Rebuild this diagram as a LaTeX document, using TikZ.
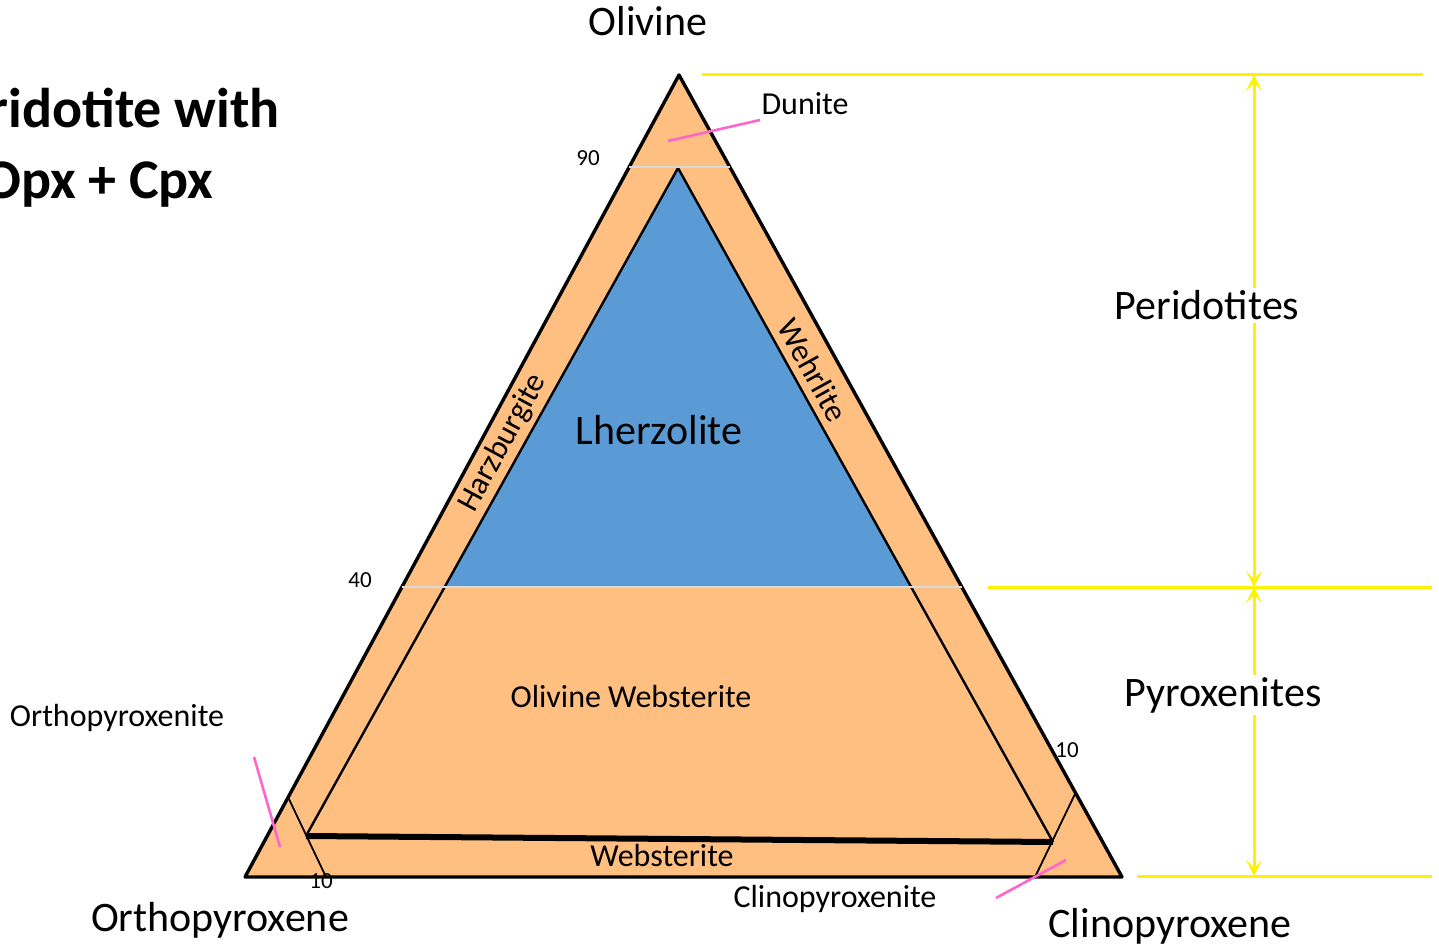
\documentclass[tikz,border=0pt]{standalone}
\usepackage{fontspec}
\setmainfont{Carlito}
\usetikzlibrary{arrows.meta}
\definecolor{opxorange}{RGB}{255,191,128}
\definecolor{lhzblue}{RGB}{91,155,213}
\definecolor{leadpink}{RGB}{255,102,204}
\definecolor{divgray}{RGB}{217,217,217}
\tikzset{
  biglbl/.style={font=\fontsize{21}{25}\selectfont,anchor=base,inner sep=1pt},
  smalllbl/.style={font=\fontsize{16}{19}\selectfont,anchor=base,inner sep=1pt},
  ticklbl/.style={font=\fontsize{11.5}{14}\selectfont,anchor=base,inner sep=1pt},
  leader/.style={leadpink,line width=1.3pt},
  field/.style={yellow,line width=1.5pt},
  fieldarrow/.style={field,-{Stealth[length=8pt,width=8pt,inset=4pt]}}
}
\begin{document}
\begin{tikzpicture}[x=0.5pt,y=-0.5pt,line join=round]
\useasboundingbox (0,0) rectangle (1439,945);
\clip (0,0) rectangle (1439,945);
% corners of the ternary plot
\coordinate (ol) at (679,75);
\coordinate (opx) at (245,877);
\coordinate (cpx) at (1122,877);
\coordinate (lhztop) at (678,168);
\coordinate (webl) at (306,836);
\coordinate (webr) at (1053,842);
% outer triangle and lherzolite field
\draw[fill=opxorange,line width=1.7pt] (ol) -- (opx) -- (cpx) -- cycle;
\fill[lhzblue] (lhztop) -- (445,587) -- (911,587) -- cycle;
\draw[line width=1.2pt] (webl) -- (lhztop) -- (webr);
\draw[line width=3pt] (webl) -- (webr);
% 90 and 40 percent olivine
\draw[divgray,line width=1.3pt] (629,167) -- (730,167);
\draw[divgray,line width=1.3pt] (402,587) -- (962,587);
% 10 percent corners
\draw[line width=0.9pt] (288,797) -- (326,877);
\draw[line width=0.9pt] (1075,794) -- (1035,877);
% leaders
\draw[leader] (668,141) -- (760,120);
\draw[leader] (254,757) -- (280,847);
\draw[leader] (996,898) -- (1066,860);
% peridotite / pyroxenite ranges
\coordinate (ftop) at (1254,75);
\coordinate (fmid) at (1254,587);
\coordinate (fbot) at (1254,876);
\draw[field] (702,75) -- (1423,75);
\draw[field] (988,588) -- (1432,588);
\draw[field] (1137,876) -- (1432,876);
\node[biglbl,fill=white] (peri) at (1207,320) {Peridotites};
\node[biglbl,fill=white] (pyrox) at (1223,706) {Pyroxenites};
\draw[fieldarrow] (peri.north -| ftop) -- (ftop);
\draw[fieldarrow] (peri.south -| ftop) -- (fmid);
\draw[fieldarrow] (pyrox.north -| ftop) -- (fmid);
\draw[fieldarrow] (pyrox.south -| ftop) -- (fbot);
\node[biglbl] (olv) at (648,36) {Olivine};
\node[biglbl] (opxlbl) at (220,931) {Orthopyroxene};
\node[biglbl] (cpxlbl) at (1170,937) {Clinopyroxene};
\node[biglbl] (lhz) at (659,445) {Lherzolite};
\node[smalllbl] (dun) at (805,115) {Dunite};
\node[smalllbl] (olweb) at (631,707) {Olivine Websterite};
\node[smalllbl] (opxite) at (117,726) {Orthopyroxenite};
\node[smalllbl] (web) at (662,866) {Websterite};
\node[smalllbl] (cpxite) at (835,907) {Clinopyroxenite};
\node[smalllbl,anchor=center,rotate=61.6] (hzb) at (503,443) {Harzburgite};
\node[smalllbl,anchor=center,rotate=-61.1] (wehr) at (813,370) {Wehrlite};
\foreach \x/\y/\t [count=\i] in {588/166/90, 360/588/40, 321/888/10, 1067/757/10}
  \node[ticklbl] (tick\i) at (\x,\y) {\t};
% title, cut at the left margin
\node[font=\fontsize{28}{34}\bfseries,anchor=base east,inner sep=0pt] (title1) at (280,128) {Peridotite with};
\node[font=\fontsize{28}{34}\bfseries,anchor=base east,inner sep=0pt] (title2) at (214,199) {Opx + Cpx};
\end{tikzpicture}
\end{document}
